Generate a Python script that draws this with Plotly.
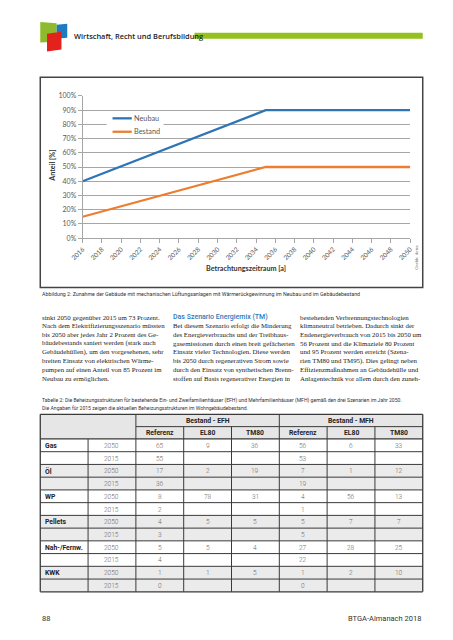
import plotly.graph_objects as go

W, H = 437, 624
OFF = 8
def X(p): return (p - OFF) / W
def Y(p): return 1 - (p - OFF) / H

# ---------------- data ----------------
years = [2016, 2035, 2050]
neubau = [0.40, 0.90, 0.90]
bestand = [0.15, 0.50, 0.50]
x_ticks = list(range(2016, 2051, 2))

header_title = "Wirtschaft, Recht und Berufsbildung"
fig_caption = ("Abbildung 2: Zunahme der Gebäude mit mechanischen Lüftungsanlagen mit "
               "Wärmerückgewinnung im Neubau und im Gebäudebestand")

col1 = ["sinkt 2050 gegenüber 2015 um 73 Prozent.",
        "Nach dem Elektrifizierungsszenario müssten",
        "bis 2050 aber jedes Jahr 2 Prozent des Ge-",
        "bäudebestands saniert werden (stark auch",
        "Gebäudehüllen), um den vorgesehenen, sehr",
        "breiten Einsatz von elektrischen Wärme-",
        "pumpen auf einen Anteil von 85 Prozent im",
        "Neubau zu ermöglichen."]
col2_head = "Das Szenario Energiemix (TM)"
col2 = ["Bei diesem Szenario erfolgt die Minderung",
        "des Energieverbrauchs und der Treibhaus-",
        "gasemissionen durch einen breit gefächerten",
        "Einsatz vieler Technologien. Diese werden",
        "bis 2050 durch regenerativen Strom sowie",
        "durch den Einsatz von synthetischen Brenn-",
        "stoffen auf Basis regenerativer Energien in"]
col3 = ["bestehenden Verbrennungstechnologien",
        "klimaneutral betrieben. Dadurch sinkt der",
        "Endenergieverbrauch von 2015 bis 2050 um",
        "56 Prozent und die Klimaziele 80 Prozent",
        "und 95 Prozent werden erreicht (Szena-",
        "rien TM80 und TM95). Dies gelingt neben",
        "Effizienzmaßnahmen an Gebäudehülle und",
        "Anlagentechnik vor allem durch den zuneh-"]

table_caption = ["Tabelle 2: Die Beheizungsstrukturen für bestehende Ein- und Zweifamilienhäuser (EFH) "
                 "und Mehrfamilienhäuser (MFH) gemäß den drei Szenarien im Jahr 2050.",
                 "Die Angaben für 2015 zeigen die aktuellen Beheizungsstrukturen im Wohngebäudebestand."]
groups = ["Bestand - EFH", "Bestand - MFH"]
scenarios = ["Referenz", "EL80", "TM80"]
carriers = ["Gas", "Öl", "WP", "Pellets", "Nah-/Fernw.", "KWK"]
row_years = ["2050", "2015"]
vals_2050 = [[65, 9, 36, 56, 6, 33],
             [17, 2, 19, 7, 1, 12],
             [8, 78, 31, 4, 56, 13],
             [4, 5, 5, 5, 7, 7],
             [5, 5, 4, 27, 28, 25],
             [1, 1, 5, 1, 2, 10]]
vals_2015 = [[55, 53], [36, 19], [2, 1], [3, 5], [4, 22], [0, 0]]
page_no = "88"
footer_right = "BTGA-Almanach 2018"

series = [("Neubau", neubau, "#2e75b6"), ("Bestand", bestand, "#ed7d31")]

# ---------------- figure ----------------
fig = go.Figure()
for name, vals, col in series:
    fig.add_trace(go.Scatter(x=years, y=vals, mode="lines", name=name,
                             line=dict(color=col, width=2.3), showlegend=False))

shapes = []
ann = []

def rect(x0, y0, x1, y1, fill=None, line=None, lw=1, layer="below"):
    shapes.append(dict(type="rect", xref="paper", yref="paper",
                       x0=X(x0), x1=X(x1), y0=Y(y1), y1=Y(y0),
                       fillcolor=fill or "rgba(0,0,0,0)",
                       line=dict(color=line or "rgba(0,0,0,0)", width=lw if line else 0),
                       layer=layer))

def hline(x0, x1, y, color="#3a3a3a", lw=1):
    shapes.append(dict(type="line", xref="paper", yref="paper", x0=X(x0), x1=X(x1),
                       y0=Y(y), y1=Y(y), line=dict(color=color, width=lw)))

def vline(x, y0, y1, color="#3a3a3a", lw=1):
    shapes.append(dict(type="line", xref="paper", yref="paper", x0=X(x), x1=X(x),
                       y0=Y(y0), y1=Y(y1), line=dict(color=color, width=lw)))

def text(x, y, s, size=7, color="#333", family="Roboto", anchor="left", angle=0, weight=None):
    f = dict(size=size, color=color, family=family)
    if weight:
        f["weight"] = weight
    ann.append(dict(x=X(x), y=Y(y), xref="paper", yref="paper", text=s, showarrow=False,
                    xanchor=anchor, yanchor="middle", font=f, textangle=angle))

def poly(pts, color):
    d = "M " + " L ".join(f"{X(a)},{Y(b)}" for a, b in pts) + " Z"
    shapes.append(dict(type="path", xref="paper", yref="paper", path=d,
                       fillcolor=color, line=dict(width=0)))

# header logo
poly([(28, 17), (45, 18.5), (45, 37), (28, 38)], "#8dbb2b")
poly([(45, 20), (56, 19), (56, 33), (45, 34)], "#1f7ac2")
poly([(35, 29), (50, 27), (50, 45), (35, 47)], "#e3231b")
text(61, 31, header_title, size=7.4, color="#222", family="Open Sans", weight=600)
rect(188, 28, 425, 34, fill="#95c11f")

# chart frame
shapes.append(dict(type="rect", xref="paper", yref="paper", x0=X(28), x1=X(425),
                   y0=Y(286), y1=Y(73), line=dict(color="#444", width=1.5),
                   fillcolor="rgba(0,0,0,0)"))
text(40, 163, "Anteil [%]", size=7.2, color="#333", family="Lato", anchor="center", angle=-90, weight="bold")
text(242, 267, "Betrachtungszeitraum [a]", size=7.2, color="#333", family="Lato", anchor="center", weight="bold")
text(418, 256, "Grafik: dena", size=4.6, color="#777", family="Lato", anchor="center", angle=-90)

# legend (white box over gridline, line samples, labels)
rect(97, 109, 156, 134, fill="white", layer="above")
for i, (name, vals, col) in enumerate(series):
    yy = 114.7 + i * 13.6
    shapes.append(dict(type="line", xref="paper", yref="paper", x0=X(103), x1=X(123),
                       y0=Y(yy), y1=Y(yy), line=dict(color=col, width=2.3)))
    text(123.5, yy, name, size=7.3, color="#595959", family="Lato")

# figure caption
text(28, 293, fig_caption, size=5.3, color="#333", family="Roboto")

# text columns
lh = 8.85
fs = 6.85
for i, s in enumerate(col1):
    text(28, 316 + i * lh, s, size=fs, color="#222", family="Liberation Serif")
text(164, 316, col2_head, size=7, color="#2b7bbd", family="Roboto", weight=500)
for i, s in enumerate(col2):
    text(164, 316 + (i + 1) * lh, s, size=fs, color="#222", family="Liberation Serif")
for i, s in enumerate(col3):
    text(296, 316 + i * lh, s, size=fs, color="#222", family="Liberation Serif")

# table caption
text(28, 401, table_caption[0], size=5.1, color="#333", family="Roboto")
text(28, 408, table_caption[1], size=5.1, color="#333", family="Roboto")

# table
tl, tr = 28, 425
cw = (tr - tl) / 8
cx = [tl + cw * i for i in range(9)]
t0, h1, h2 = 414.5, 427, 439.5
rh = 12.9
nrows = 12
tb = h2 + rh * nrows
rect(tl, t0, tr, h2, fill="#e6e6e6")
for g in range(6):
    if g % 2 == 1:
        rect(tl, h2 + rh * 2 * g, tr, h2 + rh * 2 * (g + 1), fill="#ebebeb")
hline(tl, tr, t0, lw=1.3)
hline(cx[2], tr, h1)
for r in range(nrows + 1):
    hline(tl, tr, h2 + rh * r, lw=1.3 if r in (0, nrows) else 1)
vline(tl, t0, tb, lw=1.3)
vline(tr, t0, tb, lw=1.3)
vline(cx[2], t0, tb)
vline(cx[5], t0, tb)
for c in (3, 4, 6, 7):
    vline(cx[c], h1, tb)
vline(cx[1], h2, tb)
for gi, g in enumerate(groups):
    text((cx[2 + 3 * gi] + cx[5 + 3 * gi]) / 2, (t0 + h1) / 2 + 0.5, g, size=6.8,
         color="#222", family="Roboto", anchor="center", weight="bold")
    for si, s in enumerate(scenarios):
        c = 2 + 3 * gi + si
        text((cx[c] + cx[c + 1]) / 2, (h1 + h2) / 2 + 0.5, s, size=6.8,
             color="#222", family="Roboto", anchor="center", weight="bold")
for g, name in enumerate(carriers):
    ya = h2 + rh * (2 * g) + rh / 2 + 0.5
    yb = ya + rh
    text(31, ya, name, size=6.8, color="#222", family="Roboto", weight="bold")
    text((cx[1] + cx[2]) / 2, ya, row_years[0], size=6.5, color="#6a6a6a", family="Roboto", anchor="center", weight=300)
    text((cx[1] + cx[2]) / 2, yb, row_years[1], size=6.5, color="#6a6a6a", family="Roboto", anchor="center", weight=300)
    for j, v in enumerate(vals_2050[g]):
        text((cx[2 + j] + cx[3 + j]) / 2, ya, str(v), size=6.5, color="#6a6a6a", family="Roboto", anchor="center", weight=300)
    for j, v in enumerate(vals_2015[g]):
        c = 2 + 3 * j
        text((cx[c] + cx[c + 1]) / 2, yb, str(v), size=6.5, color="#6a6a6a", family="Roboto", anchor="center", weight=300)

# footer
text(28, 621, page_no, size=7.5, color="#333", family="Roboto")
text(425, 621, footer_right, size=7.5, color="#333", family="Roboto", anchor="right")

fig.update_layout(
    width=W, height=H, margin=dict(l=0, r=0, t=0, b=0),
    paper_bgcolor="white", plot_bgcolor="white",
    shapes=shapes, annotations=ann,
    showlegend=False,
    xaxis=dict(domain=[X(72), X(412)], range=[2016, 2050], tickvals=x_ticks,
               ticktext=[str(t) for t in x_ticks], tickangle=-45, showgrid=False,
               showline=True, linecolor="#a6a6a6", ticks="outside", ticklen=4,
               tickcolor="#a6a6a6", tickfont=dict(size=6.5, color="#595959", family="Lato"),
               zeroline=False, fixedrange=True),
    yaxis=dict(domain=[Y(236), Y(92)], range=[0, 1], dtick=0.1, tickformat=".0%",
               showgrid=True, gridcolor="#a6a6a6", gridwidth=1, showline=True,
               linecolor="#a6a6a6", ticks="outside", ticklen=4, tickcolor="#a6a6a6",
               tickfont=dict(size=7, color="#595959", family="Lato"), zeroline=False),
)
fig.write_html("out.html")
